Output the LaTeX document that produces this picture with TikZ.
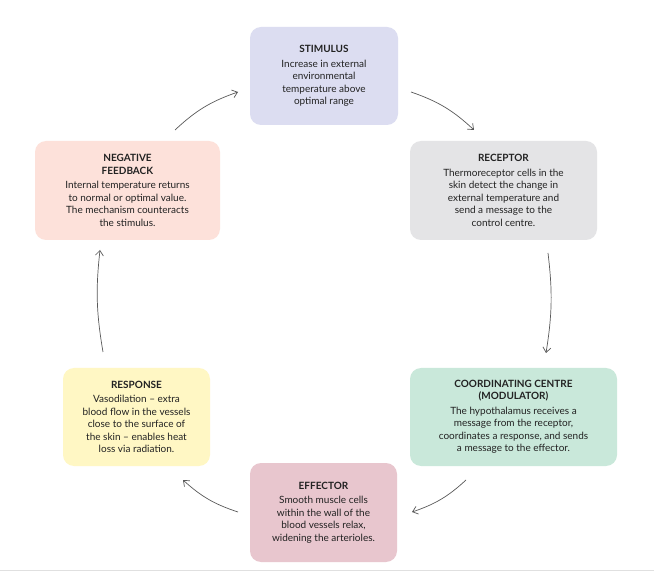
\documentclass[tikz,border=0pt]{standalone}
\usepackage{fontspec}
\setmainfont{Lato}
\usetikzlibrary{arrows.meta}
\definecolor{cstim}{HTML}{DCDDF1}
\definecolor{crec}{HTML}{E4E4E6}
\definecolor{ccoord}{HTML}{C9E8DA}
\definecolor{ceff}{HTML}{E8C6CE}
\definecolor{cresp}{HTML}{FFF7C4}
\definecolor{cneg}{HTML}{FDE1DA}
\definecolor{ctext}{HTML}{222222}
\tikzset{
  box/.style={rounded corners=11pt, inner sep=0pt, align=center, text=ctext, font=\fontsize{10}{12.5}\selectfont},
  cyc/.style={draw=black!65, line width=0.7pt, -{Straight Barb[length=5pt,width=8pt]}},
}
\begin{document}
\begin{tikzpicture}[x=1pt,y=-1pt]
\useasboundingbox (0,0) rectangle (654,572);
\fill[white] (0,0) rectangle (654,572);
\draw[black!12] (0,570) -- (654,570);
\node[box, fill=cstim, minimum width=148pt, minimum height=98pt] (stim) at (324,76)
 {\textbf{STIMULUS}\\[2pt]Increase in external\\environmental\\temperature above\\optimal range};
\node[box, fill=crec, minimum width=187pt, minimum height=99pt] (rec) at (503.5,190.5)
 {\textbf{RECEPTOR}\\[2pt]Thermoreceptor cells in the\\skin detect the change in\\external temperature and\\send a message to the\\control centre.};
\node[box, fill=ccoord, minimum width=207pt, minimum height=98pt] (coord) at (513.5,417)
 {\textbf{COORDINATING CENTRE}\\\textbf{(MODULATOR)}\\[2pt]The hypothalamus receives a\\message from the receptor,\\coordinates a response, and sends\\a message to the effector.};
\node[box, fill=ceff, minimum width=147pt, minimum height=99pt] (eff) at (323.5,512.5)
 {\textbf{EFFECTOR}\\[2pt]Smooth muscle cells\\within the wall of the\\blood vessels relax,\\widening the arterioles.};
\node[box, fill=cresp, minimum width=147pt, minimum height=98pt] (resp) at (136.5,417)
 {\textbf{RESPONSE}\\[2pt]Vasodilation -- extra\\blood flow in the vessels\\close to the surface of\\the skin -- enables heat\\loss via radiation.};
\node[box, fill=cneg, minimum width=185pt, minimum height=99pt] (neg) at (127.5,190.5)
 {\textbf{NEGATIVE}\\\textbf{FEEDBACK}\\[2pt]Internal temperature returns\\to normal or optimal value.\\The mechanism counteracts\\the stimulus.};
\coordinate (a1) at (411,92); \coordinate (b1) at (474,130);
\coordinate (a2) at (548,253); \coordinate (b2) at (546,353);
\coordinate (a3) at (466,480); \coordinate (b3) at (412,512);
\coordinate (a4) at (238,512); \coordinate (b4) at (183,480);
\coordinate (a5) at (103,352); \coordinate (b5) at (100,250);
\coordinate (a6) at (175,130); \coordinate (b6) at (238,92);
\draw[cyc] (a1) to[bend left=12] (b1);
\draw[cyc] (a2) to[bend left=8] (b2);
\draw[cyc] (a3) to[bend left=12] (b3);
\draw[cyc] (a4) to[bend left=12] (b4);
\draw[cyc] (a5) to[bend left=8] (b5);
\draw[cyc] (a6) to[bend left=12] (b6);
\end{tikzpicture}
\end{document}
